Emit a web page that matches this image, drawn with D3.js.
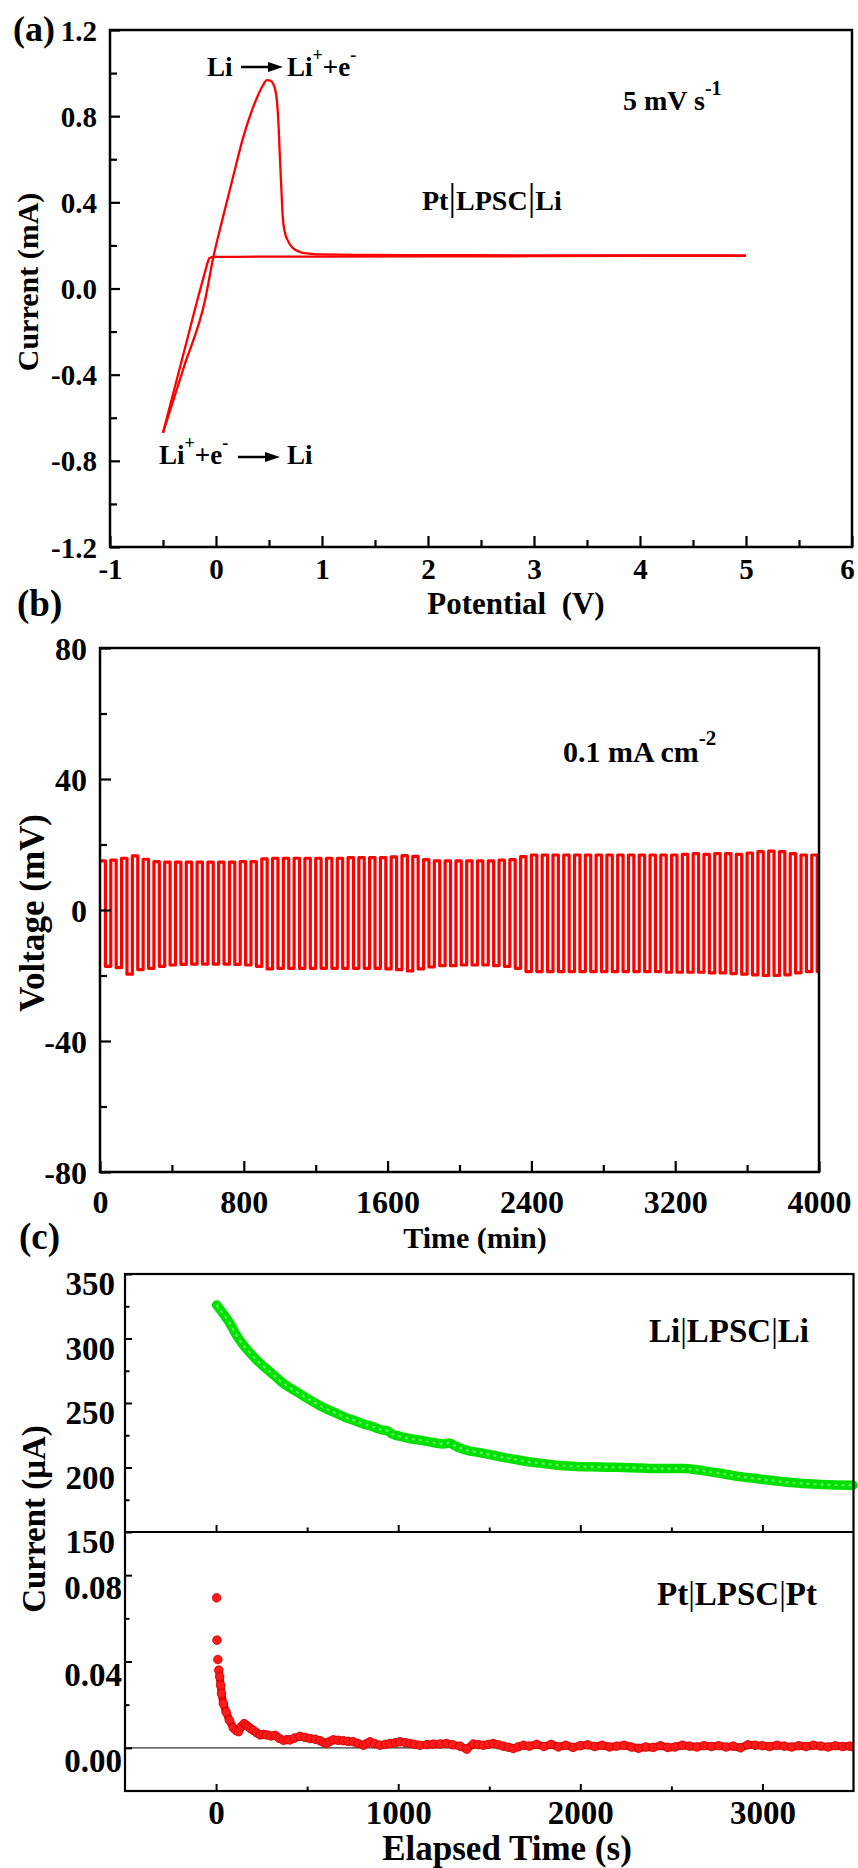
<!DOCTYPE html>
<html><head><meta charset="utf-8">
<script src="https://cdn.jsdelivr.net/npm/d3@7"></script>
<style>
html,body{margin:0;padding:0;background:#fff;}
svg text{font-family:"Liberation Serif","Times New Roman",serif;font-weight:bold;fill:#000;}
</style></head><body>
<svg id="chart" width="858" height="1868"></svg>
<script>
// ================= DATA =================
// Panel (a): cyclic voltammetry of Pt|LPSC|Li (potential V, current mA)
const cvAnodicV = [-0.5, -0.3, -0.104, -0.025, 0.05, 0.16, 0.25, 0.32, 0.39, 0.44, 0.48, 0.51, 0.54, 0.56, 0.575, 0.59, 0.60, 0.615, 0.63, 0.65, 0.68, 0.72, 0.8, 0.9, 1.0, 1.5, 2.0, 3.0, 4.0, 5.0];
const cvAnodicI = [-0.67, -0.36, -0.056, 0.146, 0.30, 0.516, 0.69, 0.80, 0.89, 0.94, 0.967, 0.965, 0.95, 0.92, 0.87, 0.76, 0.64, 0.48, 0.33, 0.26, 0.22, 0.19, 0.168, 0.161, 0.158, 0.156, 0.155, 0.154, 0.154, 0.153];
const cvCathodicV = [5.0, 4.0, 3.0, 2.0, 1.0, 0.5, 0.2, 0.0, -0.04, -0.065, -0.08, -0.177, -0.3, -0.5];
const cvCathodicI = [0.152, 0.151, 0.150, 0.149, 0.148, 0.148, 0.147, 0.147, 0.146, 0.14, 0.12, -0.056, -0.29, -0.67];
const aXTicks = [-1, 0, 1, 2, 3, 4, 5, 6];
const aXMinor = [-0.5, 0.5, 1.5, 2.5, 3.5, 4.5, 5.5];
const aYTicks = [-1.2, -0.8, -0.4, 0, 0.4, 0.8, 1.2];
const aYLabels = ["-1.2", "-0.8", "-0.4", "0.0", "0.4", "0.8", "1.2"];
const aYMinor = [-1.0, -0.6, -0.2, 0.2, 0.6, 1.0];

// Panel (b): Li symmetric cell cycling, per-cycle plateau voltages (mV), 30 min per half cycle
const halfCycleMin = 30;
const cycleUpper = [15.0, 15.2, 15.8, 16.5, 15.5,
  14.8, 14.6, 14.6, 14.6, 14.6, 14.6, 14.6, 14.6, 14.8, 14.8,
  15.6, 15.8, 15.8, 15.8, 15.8, 15.8, 15.8, 15.8, 16.0, 16.0, 16.0, 16.0, 16.2,
  16.6, 16.4,
  15.4, 15.0, 15.0, 15.0, 15.0, 15.0, 15.0, 15.2, 15.4,
  16.3, 16.8, 16.8, 16.8, 16.8, 16.8, 16.8, 16.8, 16.8, 16.8, 16.8, 16.8, 16.8, 16.8, 16.8, 17.0,
  17.2, 17.0, 17.2, 17.2, 17.0, 17.4,
  17.8, 18.0, 17.8, 17.2,
  16.8, 16.8];
const cycleLower = [-17.2, -17.6, -19.6, -18.2, -17.8,
  -17.2, -16.8, -16.6, -16.5, -16.5, -16.5, -16.5, -16.6, -16.8, -17.2,
  -18.0, -17.8, -17.8, -17.8, -17.8, -17.8, -17.8, -17.8, -17.8, -17.8, -17.8, -18.0, -18.2,
  -18.6, -18.0,
  -17.4, -17.0, -17.0, -16.8, -16.8, -16.8, -17.0, -17.2, -17.8,
  -18.8, -18.8, -18.8, -18.8, -18.8, -18.8, -18.8, -18.8, -18.8, -18.8, -18.8, -18.8, -18.8, -19.0, -19.0, -19.0,
  -19.0, -19.2, -19.2, -19.4, -19.6, -19.8,
  -20.0, -20.0, -19.8, -19.2,
  -18.8, -18.8];
const bXTicks = [0, 800, 1600, 2400, 3200, 4000];
const bXMinor = [400, 1200, 2000, 2800, 3600];
const bYTicks = [-80, -40, 0, 40, 80];
const bYMinor = [-60, -20, 20, 60];

// Panel (c): DC polarization (time s, current)
const liTime = [3, 40, 76, 110, 149, 185, 223, 260, 296, 330, 369, 405, 442, 490, 533, 590, 643, 700, 753, 810, 863, 905, 945, 965, 1009, 1060, 1119, 1190, 1250, 1280, 1310, 1375, 1450, 1521, 1600, 1668, 1723, 1800, 1873, 1960, 2056, 2150, 2239, 2330, 2422, 2500, 2568, 2640, 2715, 2790, 2861, 2930, 3007, 3080, 3154, 3230, 3300, 3400, 3497];
const liCurrent = [326, 319, 311.7, 303, 295, 289, 283.3, 278.5, 274.2, 270, 265.2, 261.8, 258.7, 254.5, 250.9, 246.5, 243.1, 239.5, 236.7, 233.8, 231.5, 229.3, 228.2, 226, 224.2, 222.5, 221.2, 219.4, 218.3, 219, 217, 213.4, 211.5, 209.5, 207.3, 205.6, 204.3, 203, 201.8, 201, 200.5, 200.2, 200, 199.6, 199.2, 199.2, 199.2, 198.2, 196.6, 195, 193.2, 192, 190.7, 189.5, 188.3, 187.6, 187, 186.5, 186.2];
const ptTime = [3, 5, 10, 15, 20, 25, 30, 40, 55, 73, 95, 110, 123, 140, 154, 165, 178, 192, 205, 222, 242, 260, 278, 300, 324, 345, 370, 390, 406, 430, 461, 490, 516, 545, 571, 590, 607, 625, 644, 670, 699, 725, 754, 780, 809, 826, 845, 870, 900, 930, 955, 985, 1010, 1040, 1065, 1090, 1120, 1160, 1193, 1230, 1266, 1300, 1339, 1376, 1413, 1440, 1468, 1495, 1522, 1550, 1577, 1605, 1632, 1660, 1687, 1720, 1760, 1800, 1840, 1880, 1920, 1960, 2000, 2040, 2080, 2120, 2160, 2200, 2240, 2280, 2320, 2360, 2400, 2440, 2480, 2520, 2560, 2600, 2640, 2680, 2720, 2760, 2800, 2840, 2880, 2920, 2960, 3000, 3040, 3080, 3120, 3160, 3200, 3240, 3280, 3320, 3360, 3400, 3440, 3480, 3500];
const ptCurrent = [0.0695, 0.0499, 0.0409, 0.0360, 0.0329, 0.0290, 0.0251, 0.0205, 0.0166, 0.0128, 0.0092, 0.0080, 0.0075, 0.0100, 0.0112, 0.0105, 0.0097, 0.0088, 0.0081, 0.0070, 0.0060, 0.0062, 0.0060, 0.0055, 0.0058, 0.0045, 0.0035, 0.0038, 0.0037, 0.0045, 0.0053, 0.0048, 0.0043, 0.0040, 0.0033, 0.0025, 0.0020, 0.0030, 0.0037, 0.0035, 0.0033, 0.0030, 0.0028, 0.0020, 0.0012, 0.0020, 0.0028, 0.0020, 0.0012, 0.0016, 0.0020, 0.0024, 0.0028, 0.0024, 0.0020, 0.0016, 0.0012, 0.0015, 0.0017, 0.0018, 0.0020, 0.0014, 0.0008, -0.0006, 0.0018, 0.0015, 0.0012, 0.0016, 0.0020, 0.0014, 0.0008, 0.0003, -0.0003, 0.0005, 0.0012, 0.0008, 0.0016, 0.0006, 0.0016, 0.0004, 0.0012, 0.0002, 0.0010, 0.0014, 0.0006, 0.0012, 0.0004, 0.0008, 0.0012, 0.0004, -0.0002, 0.0004, 0.0002, 0.0010, 0.0002, 0.0004, 0.0012, 0.0008, 0.0004, 0.0010, 0.0006, 0.0010, 0.0004, 0.0008, 0.0000, 0.0014, 0.0012, 0.0010, 0.0006, 0.0012, 0.0008, 0.0004, 0.0010, 0.0006, 0.0012, 0.0008, 0.0004, 0.0010, 0.0006, 0.0008, 0.0004];
const cXTicks = [0, 1000, 2000, 3000];
const cXMinor = [500, 1500, 2500];
const cTopYTicks = [150, 200, 250, 300, 350];
const cTopYMinor = [175, 225, 275, 325];
const cBotYTicks = [0, 0.04, 0.08];
const cBotYLabels = ["0.00", "0.04", "0.08"];
const cBotYMinor = [0.02, 0.06];

// ================= DRAWING =================
const FONT = '"Liberation Serif","Times New Roman",serif';
const svg = d3.select("#chart");
svg.append("rect").attr("width", 858).attr("height", 1868).attr("fill", "#fff");

function styleAxis(g, fs, sw) {
  g.select(".domain").remove();
  g.attr("font-family", null).attr("font-size", null);
  g.selectAll(".tick line").attr("stroke", "#000").attr("stroke-width", sw);
  g.selectAll(".tick text").style("font-size", fs + "px").style("font-family", FONT).style("font-weight", "bold").attr("fill", "#000");
}
function yAxis(o) {
  if (o.minor) {
    const gm = svg.append("g").attr("transform", `translate(${o.x},0)`)
      .call(d3.axisLeft(o.scale).tickValues(o.minor).tickSize(-o.minLen).tickFormat(""));
    styleAxis(gm, o.fs, o.sw);
  }
  const g = svg.append("g").attr("transform", `translate(${o.x},0)`)
    .call(d3.axisLeft(o.scale).tickValues(o.major).tickSize(-o.majLen).tickPadding(o.pad)
      .tickFormat((d, i) => o.labels ? o.labels[i] : ""));
  styleAxis(g, o.fs, o.sw);
  g.selectAll(".tick text").attr("dy", "0.35em").attr("y", o.shift || 0);
  return g;
}
function xAxis(o) {
  if (o.minor) {
    const gm = svg.append("g").attr("transform", `translate(0,${o.y})`)
      .call(d3.axisBottom(o.scale).tickValues(o.minor).tickSize(-o.minLen).tickFormat(""));
    styleAxis(gm, o.fs, o.sw);
  }
  const g = svg.append("g").attr("transform", `translate(0,${o.y})`)
    .call(d3.axisBottom(o.scale).tickValues(o.major).tickSize(-o.majLen)
      .tickFormat((d, i) => o.labels ? o.labels[i] : ""));
  styleAxis(g, o.fs, o.sw);
  g.selectAll(".tick text").attr("y", o.off).attr("dy", "0.35em");
  return g;
}
function frame(x0, x1, y0, y1, sw) {
  svg.append("rect").attr("x", x0).attr("y", y0).attr("width", x1 - x0).attr("height", y1 - y0)
    .attr("fill", "none").attr("stroke", "#000").attr("stroke-width", sw);
}
function label(x, y, txt, fs, anchor, rot) {
  const t = svg.append("text").attr("x", x).attr("y", y).style("font-size", fs + "px")
    .attr("text-anchor", anchor || "start").text(txt);
  if (rot) t.attr("transform", `rotate(${rot},${x},${y})`);
  return t;
}
function arrow(x0, x1, y) {
  svg.append("line").attr("x1", x0).attr("x2", x1 - 10).attr("y1", y).attr("y2", y)
    .attr("stroke", "#000").attr("stroke-width", 2.5);
  svg.append("path").attr("d", `M${x1},${y} L${x1 - 15},${y - 5} L${x1 - 15},${y + 5} Z`).attr("fill", "#000");
}

// ---------- Panel (a) ----------
{
  const x = d3.scaleLinear([-1, 6], [110, 852]);
  const y = d3.scaleLinear([-1.2, 1.2], [547, 30]);
  const line = d3.line().x(d => x(d[0])).y(d => y(d[1]));
  svg.append("path").datum(cvCathodicV.map((v, i) => [v, cvCathodicI[i]]))
    .attr("d", line).attr("fill", "none").attr("stroke", "#ff0000").attr("stroke-width", 2.3).attr("stroke-linejoin", "round");
  svg.append("path").datum(cvAnodicV.map((v, i) => [v, cvAnodicI[i]]))
    .attr("d", line.curve(d3.curveMonotoneX)).attr("fill", "none").attr("stroke", "#ff0000").attr("stroke-width", 2.3);
  frame(110, 852, 30, 547, 2.5);
  yAxis({scale: y, x: 110, major: aYTicks, labels: aYLabels, minor: aYMinor, majLen: 10, minLen: 7, fs: 29, pad: 13, sw: 2.2});
  const ax = xAxis({scale: x, y: 547, major: aXTicks, labels: aXTicks.map(String), minor: aXMinor, majLen: 11, minLen: 7, fs: 29, off: 22, sw: 2.2});
  ax.selectAll(".tick text").filter(d => d === 6).attr("dx", -5);
  label(13, 41, "(a)", 36);
  label(38, 282, "Current (mA)", 30, "middle", -90);
  label(516, 614, "Potential\u00a0\u00a0(V)", 31, "middle");
  // annotations
  label(207, 76, "Li", 27);
  arrow(241, 283, 67);
  const t1 = label(287, 76, "Li", 27);
  t1.append("tspan").attr("dy", -15).style("font-size", "18px").text("+");
  t1.append("tspan").attr("dy", 15).text("+e");
  t1.append("tspan").attr("dy", -15).style("font-size", "18px").text("-");
  const t2 = label(159, 464, "Li", 27);
  t2.append("tspan").attr("dy", -15).style("font-size", "18px").text("+");
  t2.append("tspan").attr("dy", 15).text("+e");
  t2.append("tspan").attr("dy", -15).style("font-size", "18px").text("-");
  arrow(238, 280, 457);
  label(287, 464, "Li", 27);
  const t3 = label(623, 110, "5 mV s", 28);
  t3.append("tspan").attr("dy", -15).style("font-size", "20px").text("-1");
  const t4 = label(422, 210, "Pt", 28);
  t4.append("tspan").style("font-size", "38px").style("font-weight", "normal").text("|");
  t4.append("tspan").text("LPSC");
  t4.append("tspan").style("font-size", "38px").style("font-weight", "normal").text("|");
  t4.append("tspan").text("Li");
}

// ---------- Panel (b) ----------
{
  const x = d3.scaleLinear([0, 4000], [100, 819]);
  const y = d3.scaleLinear([-80, 80], [1172, 648]);
  const wave = [];
  cycleUpper.forEach((u, i) => {
    const t0 = i * 2 * halfCycleMin;
    wave.push([t0, u], [t0 + halfCycleMin, u], [t0 + halfCycleMin, cycleLower[i]], [t0 + 2 * halfCycleMin, cycleLower[i]]);
  });
  svg.append("clipPath").attr("id", "clipB").append("rect").attr("x", 100).attr("y", 648).attr("width", 719).attr("height", 524);
  svg.append("path").datum(wave).attr("clip-path", "url(#clipB)")
    .attr("d", d3.line().x(d => x(d[0])).y(d => y(d[1])))
    .attr("fill", "none").attr("stroke", "#ff0000").attr("stroke-width", 3.2).attr("stroke-linejoin", "round");
  frame(100, 819, 648, 1172, 2.5);
  yAxis({scale: y, x: 100, major: bYTicks, labels: bYTicks.map(String), minor: bYMinor, majLen: 11, minLen: 7, fs: 32, pad: 13, sw: 2.2});
  xAxis({scale: x, y: 1172, major: bXTicks, labels: bXTicks.map(String), minor: bXMinor, majLen: 11, minLen: 7, fs: 32, off: 30, sw: 2.2});
  label(17, 616, "(b)", 37);
  label(44, 913, "Voltage (mV)", 35, "middle", -90);
  label(475, 1248, "Time (min)", 30, "middle");
  const t5 = label(563, 762, "0.1 mA cm", 30);
  t5.append("tspan").attr("dy", -17).style("font-size", "21px").text("-2");
}

// ---------- Panel (c) ----------
{
  const x = d3.scaleLinear([-500, 3500], [125, 853.5]);
  const yTop = d3.scaleLinear([150, 350], [1532, 1274]);
  const yBot = d3.scaleLinear([-0.02, 0.10], [1791, 1532]);
  // zero reference line
  svg.append("line").attr("x1", 125).attr("x2", 853.5).attr("y1", yBot(0)).attr("y2", yBot(0))
    .attr("stroke", "#333").attr("stroke-width", 1.2);
  // Li|LPSC|Li green trace (dense open-circle markers)
  const liPts = liTime.map((t, i) => [t, liCurrent[i]]);
  const gl = d3.line().x(d => x(d[0])).y(d => yTop(d[1])).curve(d3.curveMonotoneX);
  svg.append("path").datum(liPts).attr("d", gl).attr("fill", "none").attr("stroke", "#00e000").attr("stroke-width", 9.5).attr("stroke-linecap", "round");
  svg.append("path").datum(liPts).attr("d", gl).attr("fill", "none").attr("stroke", "#80ff80").attr("stroke-width", 2.2).attr("stroke-dasharray", "3 4").attr("opacity", 0.7);
  // Pt|LPSC|Pt red scatter
  const ptPts = ptTime.map((t, i) => [t, ptCurrent[i]]);
  svg.append("clipPath").attr("id", "clipC").append("rect").attr("x", 125).attr("y", 1532).attr("width", 728.5).attr("height", 259);
  svg.append("path").datum(ptPts.slice(3)).attr("clip-path", "url(#clipC)")
    .attr("d", d3.line().x(d => x(d[0])).y(d => yBot(d[1])))
    .attr("fill", "none").attr("stroke", "#ee0000").attr("stroke-width", 8).attr("stroke-linejoin", "round").attr("stroke-linecap", "round");
  svg.append("g").attr("clip-path", "url(#clipC)").selectAll("circle").data(ptPts).join("circle")
    .attr("cx", d => x(d[0])).attr("cy", d => yBot(d[1])).attr("r", 4.3)
    .attr("fill", "#ff1a1a").attr("stroke", "#cc0000").attr("stroke-width", 0.8);
  frame(125, 853.5, 1274, 1791, 2.2);
  svg.append("line").attr("x1", 125).attr("x2", 853.5).attr("y1", 1532).attr("y2", 1532).attr("stroke", "#000").attr("stroke-width", 2.2);
  yAxis({scale: yTop, x: 125, major: cTopYTicks, labels: cTopYTicks.map(String), minor: cTopYMinor, majLen: 7, minLen: 4.5, fs: 33, pad: 10, shift: 9, sw: 2});
  yAxis({scale: yBot, x: 125, major: cBotYTicks, labels: cBotYLabels, minor: cBotYMinor, majLen: 7, minLen: 4.5, fs: 33, pad: 3, shift: 12, sw: 2});
  xAxis({scale: x, y: 1532, major: cXTicks, minor: cXMinor, majLen: 7, minLen: 4.5, fs: 33, off: 0, sw: 2});
  xAxis({scale: x, y: 1791, major: cXTicks, labels: cXTicks.map(String), minor: cXMinor, majLen: 7, minLen: 4.5, fs: 33, off: 21, sw: 2});
  label(19, 1249, "(c)", 37);
  label(45, 1519, "Current (\u03bcA)", 33, "middle", -90);
  label(507, 1860, "Elapsed Time (s)", 35, "middle");
  const t6 = label(649, 1342, "Li", 33);
  t6.append("tspan").style("font-weight", "normal").text("|");
  t6.append("tspan").text("LPSC");
  t6.append("tspan").style("font-weight", "normal").text("|");
  t6.append("tspan").text("Li");
  const t7 = label(657, 1605, "Pt", 33);
  t7.append("tspan").style("font-weight", "normal").text("|");
  t7.append("tspan").text("LPSC");
  t7.append("tspan").style("font-weight", "normal").text("|");
  t7.append("tspan").text("Pt");
}
</script>
</body></html>
